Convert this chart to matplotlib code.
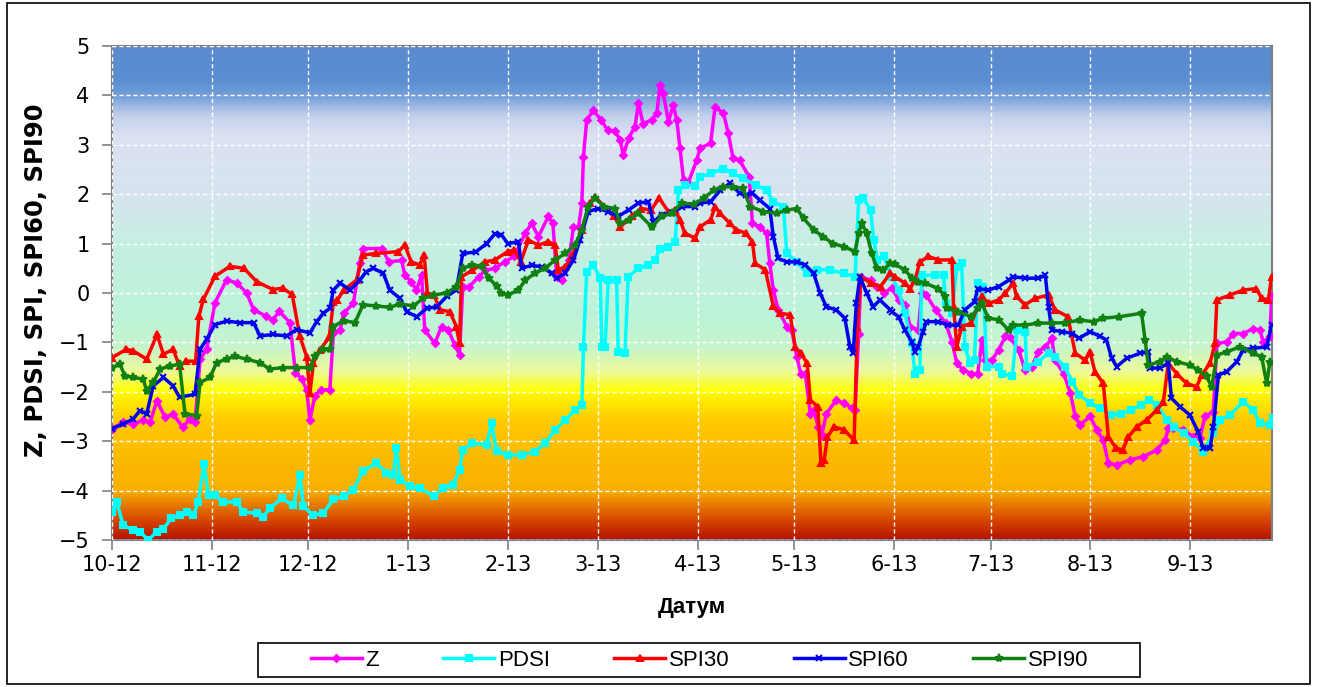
import matplotlib
matplotlib.use("Agg")
import numpy as np
import pandas as pd
import matplotlib.pyplot as plt
import matplotlib.dates as mdates
from matplotlib.colors import LinearSegmentedColormap
from matplotlib.patches import Rectangle

# Drought indices, Oct 2012 - Sep 2013. Days are counted from 1 Oct 2012.
START_DATE = "2012-10-01"
END_DAY = 360.5

z_day = [0, 3.5, 6.6, 9.7, 11.8, 14, 16.5, 19, 22, 24.2, 25.8, 27.4, 29.4, 32, 35.6, 38.8, 41.9, 44, 48, 50,
         52, 55.3, 57, 59, 60.5, 61.5, 63, 65, 67.7, 68.8, 70.9, 72, 75, 77, 78, 84, 86, 90, 91, 93,
         94.6, 96.2, 97.2, 100.3, 102.4, 104.5, 106.5, 108, 109, 111, 114, 116, 119, 122, 125, 128.4, 130.4, 132.5, 135.6, 137,
         138.2, 139.8, 142, 143.4, 145, 146, 146.5, 147.5, 149.6, 152, 154, 156.3, 157.9, 158.9, 160.5, 162.5, 163.6, 165, 167.7, 169.3,
         170.3, 171.3, 172.9, 174.4, 175.5, 176.5, 177.6, 179, 181.7, 182.7, 186, 187.4, 190, 191.5, 193, 195, 198, 199, 201.3, 203.4,
         204.4, 205.5, 207, 209.7, 211.2, 212.8, 214, 215.4, 217, 218, 219.5, 220.5, 222, 225, 227.3, 230, 230.9, 232, 232.7, 235.7,
         237.7, 239.8, 242.3, 244.4, 246.4, 248, 250.5, 251.6, 253, 256, 259, 261, 262.5, 264.5, 267, 269, 270.3, 271.3, 273.4, 275.5,
         277.6, 279, 281.7, 283.7, 285.8, 287.8, 290, 292, 293, 295.7, 297.8, 299.3, 300.8, 303.9, 306, 308, 309.6, 312.2, 316.3, 320.5,
         324.6, 327.2, 328.2, 329.8, 332.9, 336, 338, 339.6, 342.2, 343.3, 346.4, 348.4, 351.5, 354.6, 356.7, 357.7, 359.8, 360.3]
z_val = [-2.75, -2.62, -2.65, -2.58, -2.62, -2.18, -2.52, -2.45, -2.72, -2.55, -2.62, -1.34, -1.14, -0.2, 0.27, 0.2, 0.0, -0.34, -0.47, -0.54,
         -0.37, -0.6, -1.61, -1.74, -1.96, -2.57, -2.09, -1.96, -1.96, -0.81, -0.75, -0.41, -0.21, 0.6, 0.9, 0.9, 0.63, 0.66, 0.36, 0.23,
         0.06, 0.36, -0.75, -1.02, -0.68, -0.75, -1.05, -1.25, 0.13, 0.13, 0.33, 0.46, 0.5, 0.63, 0.74, 1.21, 1.41, 1.14, 1.55, 1.41,
         0.33, 0.26, 0.67, 1.34, 1.34, 1.82, 2.76, 3.5, 3.7, 3.5, 3.3, 3.27, 3.1, 2.79, 3.13, 3.37, 3.84, 3.43, 3.5, 3.64,
         4.21, 4.04, 3.47, 3.8, 3.5, 2.93, 2.29, 2.22, 2.69, 2.93, 3.03, 3.77, 3.64, 3.23, 2.73, 2.69, 2.35, 1.41, 1.34, 1.21,
         0.6, 0.06, -0.34, -0.68, -0.75, -1.29, -1.63, -1.63, -2.44, -2.37, -2.71, -2.88, -2.44, -2.17, -2.23, -2.33, -2.37, -0.82, 0.33, 0.26,
         0.13, 0.0, 0.1, -0.14, -0.24, -0.68, -0.75, 0.0, -0.04, -0.35, -0.6, -0.99, -1.42, -1.56, -1.63, -1.63, -0.95, -1.36, -1.36, -1.15,
         -0.88, -0.9, -1.15, -1.56, -1.5, -1.19, -1.09, -0.92, -1.36, -1.63, -2.03, -2.5, -2.67, -2.5, -2.77, -2.98, -3.45, -3.48, -3.38, -3.31,
         -3.18, -2.98, -2.74, -2.74, -2.77, -2.91, -2.94, -2.5, -2.4, -1.02, -0.99, -0.82, -0.82, -0.72, -0.75, -0.99, -0.88, -0.07]

pdsi_day = [0, 1.5, 3.5, 6.6, 8.7, 11.3, 14, 16, 18.5, 21, 23.2, 25.3, 26.8, 28.6, 30, 32, 34.6, 38.8, 40.8, 45,
            47, 49, 52.7, 56.4, 58.4, 59.5, 62.6, 65.7, 68.8, 72, 75, 78, 82, 85.3, 87.4, 88.4, 89.5, 92.6, 95.6, 100,
            103, 106, 108, 109, 112, 116.4, 118, 119.5, 123, 127.3, 131.4, 134.6, 137.7, 140.8, 143.9, 146, 146.5, 147.5, 149.6, 151.7,
            152.2, 153.2, 154.2, 156.8, 157.3, 159.4, 160.4, 163.6, 166.7, 168.7, 170.3, 172.9, 175, 176, 178, 181.2, 182.7, 186, 190, 193,
            196, 200, 203.4, 205.5, 208.6, 209.7, 212.8, 215.9, 219, 223, 227.3, 230.9, 232, 233.5, 235.7, 236.7, 237.8, 239.8, 242.3, 244.4,
            246.4, 248.5, 249.5, 251, 251.6, 255.8, 258.4, 259, 261, 262.5, 264, 265, 266.6, 268, 269, 270.7, 271.8, 275.5, 276.5, 279.7,
            281.2, 283.7, 284.2, 287.8, 291, 293, 296, 298.4, 300.5, 303.9, 307, 310.4, 313.4, 316.6, 319.6, 322.2, 324.7, 327.8, 330, 333,
            336, 339.1, 342.2, 344.3, 347.4, 351.5, 354.6, 356.7, 359.8, 360.6]
pdsi_val = [-4.43, -4.23, -4.7, -4.8, -4.83, -5.0, -4.83, -4.77, -4.56, -4.5, -4.43, -4.5, -4.23, -3.46, -4.09, -4.09, -4.23, -4.23, -4.43, -4.46,
            -4.53, -4.36, -4.16, -4.3, -3.69, -4.32, -4.5, -4.45, -4.18, -4.11, -3.98, -3.61, -3.44, -3.64, -3.68, -3.14, -3.78, -3.91, -3.95, -4.11,
            -3.95, -3.88, -3.58, -3.17, -3.04, -3.07, -2.63, -3.2, -3.28, -3.28, -3.21, -3.04, -2.77, -2.57, -2.37, -2.27, -1.09, 0.43, 0.57, 0.3,
            -1.09, -1.09, 0.26, 0.26, -1.19, -1.22, 0.33, 0.5, 0.57, 0.67, 0.9, 0.94, 1.04, 2.08, 2.19, 2.17, 2.35, 2.42, 2.52, 2.42,
            2.32, 2.19, 2.08, 1.85, 1.75, 0.8, 0.63, 0.4, 0.47, 0.47, 0.4, 0.33, 1.88, 1.92, 1.68, 1.07, 0.67, 0.74, 0.33, 0.06,
            -0.41, -1.02, -1.63, -1.56, 0.36, 0.36, 0.36, -0.21, -0.41, 0.53, 0.6, -1.09, -1.42, -1.35, 0.2, 0.13, -1.49, -1.49, -1.63, -1.69,
            -0.75, -0.78, -1.49, -1.39, -1.22, -1.29, -1.49, -1.8, -2.06, -2.23, -2.33, -2.47, -2.44, -2.37, -2.27, -2.17, -2.27, -2.57, -2.71, -2.84,
            -3.01, -3.21, -2.84, -2.57, -2.47, -2.2, -2.37, -2.64, -2.67, -2.54]

spi30_day = [0, 4.5, 6.6, 10.8, 14, 16, 19, 21, 23, 26, 27, 28.4, 32, 36.7, 41, 45, 50, 53, 56, 58.4,
             60.5, 61.5, 62.6, 64.6, 67.5, 68.8, 70, 72, 76, 78, 82, 89, 91, 93, 95.6, 97, 98, 100, 102, 105,
             107, 108, 108.6, 112, 116, 119, 123, 125, 127, 129.4, 132.5, 135.6, 137.7, 138.7, 140.8, 143, 146, 148.6, 150, 153,
             156, 158, 161.5, 164.5, 167.5, 170, 172.9, 175, 176.5, 178, 181.2, 182.7, 186, 187.4, 189, 192, 194, 197, 199, 199.8,
             203, 205.5, 207.6, 210.7, 212.3, 214, 216, 217, 219.3, 220.3, 221.3, 222.3, 224.4, 227.5, 230.6, 231.6, 232.7, 235.7, 238.8, 241.8,
             243.3, 246.4, 248, 249.5, 251, 253.7, 256.8, 261, 261.5, 262.5, 264, 267, 270.3, 272.4, 275.5, 277.6, 280, 281.1, 283.7, 286.8,
             291, 293, 297, 299.3, 302.4, 303.9, 305.4, 308, 309.6, 312, 314, 315.8, 318.4, 321.5, 324.6, 326.7, 328.2, 330.8, 333.9, 337,
             338.6, 341.2, 342.7, 343.3, 347.4, 351.5, 355.6, 357.2, 359.3, 360.3]
spi30_val = [-1.31, -1.14, -1.17, -1.34, -0.84, -1.24, -1.14, -1.48, -1.38, -1.38, -0.47, -0.13, 0.34, 0.54, 0.5, 0.23, 0.07, 0.1, -0.03, -0.88,
             -1.29, -2.03, -1.42, -1.15, -0.9, -0.18, -0.15, 0.06, 0.26, 0.77, 0.8, 0.84, 0.97, 0.63, 0.57, 0.77, 0.0, -0.04, -0.34, -0.38,
             -0.68, -1.02, 0.33, 0.46, 0.63, 0.67, 0.84, 0.87, 0.63, 1.07, 0.97, 1.04, 0.97, 0.47, 0.53, 0.74, 1.28, 1.82, 1.95, 1.75,
             1.55, 1.34, 1.55, 1.71, 1.68, 1.92, 1.65, 1.68, 1.48, 1.21, 1.11, 1.34, 1.48, 1.75, 1.61, 1.41, 1.28, 1.21, 1.04, 0.6,
             0.47, -0.27, -0.41, -0.44, -1.09, -1.22, -1.42, -2.17, -2.3, -3.45, -3.38, -2.91, -2.71, -2.77, -2.98, -0.68, 0.33, 0.2, 0.13, 0.4,
             0.33, 0.2, 0.09, 0.26, 0.63, 0.74, 0.67, 0.67, -0.28, -1.09, -0.68, -0.61, -0.07, -0.21, -0.14, 0.0, 0.2, -0.07, -0.24, -0.11,
             -0.04, -0.34, -0.48, -1.22, -1.36, -1.19, -1.59, -1.83, -2.91, -3.14, -3.18, -2.91, -2.71, -2.57, -2.37, -2.2, -1.42, -1.63, -1.83, -1.9,
             -1.66, -1.42, -1.02, -0.14, -0.04, 0.06, 0.09, -0.11, -0.14, 0.33]

spi60_day = [0, 3.5, 6.6, 8.7, 10.8, 12.8, 16, 19, 21, 25.8, 27.4, 29.4, 32, 35.6, 39.8, 44, 46, 50, 54.3, 57.4,
             61.5, 63.6, 65.7, 67.7, 68.8, 70.9, 74, 77, 79, 81.2, 84.3, 86.3, 89.5, 91.6, 94.7, 97.8, 100.9, 104, 107, 109,
             113, 116.4, 119, 121, 123, 126.3, 127.3, 130.4, 133.5, 136.6, 138.2, 140.8, 143.4, 145.4, 148, 151, 154, 157.3, 160.5, 163.6,
             166.7, 168.2, 170.8, 173.9, 177, 181.2, 182.7, 186, 189, 192, 195, 197, 199, 201.3, 204.4, 205.5, 207, 209.7, 212.8, 215.4,
             218, 220, 222, 225, 227.7, 229.3, 230.3, 231.3, 232.4, 234.5, 236.5, 238.6, 241.8, 242.3, 244.4, 246.4, 248.5, 249.5, 250.5, 252,
             253, 256.8, 259.9, 263, 265, 268, 269, 272.3, 275.5, 278.6, 280, 283.7, 287.8, 290, 291, 292, 295.3, 298.4, 300.5, 303.9,
             307, 309, 310.6, 312.2, 315.3, 319.4, 322, 322.6, 325.6, 328.2, 329.2, 331.8, 334.9, 337.5, 339, 341.2, 342.2, 343.8, 346.4, 349.5,
             351.5, 354.6, 358.8, 360.3]
spi60_val = [-2.75, -2.65, -2.55, -2.38, -2.45, -1.88, -1.71, -1.88, -2.11, -2.05, -1.14, -0.94, -0.64, -0.57, -0.6, -0.6, -0.87, -0.84, -0.87, -0.74,
             -0.81, -0.58, -0.41, -0.31, 0.06, 0.2, 0.06, 0.26, 0.43, 0.5, 0.4, 0.06, -0.11, -0.38, -0.48, -0.31, -0.28, -0.07, 0.06, 0.8,
             0.83, 1.0, 1.2, 1.18, 1.0, 1.04, 0.5, 0.56, 0.53, 0.4, 0.3, 0.4, 0.67, 1.07, 1.65, 1.71, 1.65, 1.55, 1.68, 1.82,
             1.85, 1.44, 1.58, 1.61, 1.75, 1.75, 1.82, 1.85, 2.08, 2.22, 2.02, 1.98, 2.02, 1.88, 1.71, 1.14, 0.7, 0.63, 0.63, 0.57,
             0.4, 0.0, -0.28, -0.34, -0.51, -1.09, -1.22, -0.2, 0.33, 0.0, -0.28, -0.14, -0.34, -0.38, -0.48, -0.75, -0.99, -1.19, -1.09, -0.78,
             -0.58, -0.58, -0.65, -0.65, -0.34, -0.18, 0.09, 0.06, 0.13, 0.26, 0.33, 0.3, 0.3, 0.36, -0.28, -0.75, -0.78, -0.82, -0.92, -0.78,
             -0.88, -0.95, -1.32, -1.49, -1.32, -1.22, -1.19, -1.52, -1.52, -1.42, -2.13, -2.3, -2.47, -2.81, -3.14, -3.14, -2.71, -1.66, -1.59, -1.39,
             -1.15, -1.12, -1.09, -0.65]

spi90_day = [0, 2.5, 4, 6.6, 9.7, 10.8, 12.8, 15, 18, 21, 22.7, 26.3, 27.4, 30.5, 32.5, 35.6, 38.2, 41.9, 46, 49,
             53.3, 57.4, 61.6, 63, 65.7, 67.8, 68.8, 72, 75.5, 78, 82, 86.3, 89.5, 93.6, 96.7, 100, 104, 107, 109, 112,
             115, 117, 119.5, 121, 123, 126.3, 128.4, 131.4, 134.6, 137.7, 140.8, 143.9, 146, 148, 150, 153, 156.3, 157.9, 160.5, 163.6,
             167.7, 170.8, 173.9, 177, 181, 183.8, 187, 190, 193, 196, 198.3, 202.4, 206.5, 209.7, 212.8, 214.9, 218, 221, 224, 227.3,
             230.9, 232, 233, 234.5, 236.1, 237.6, 239.7, 241.8, 243.3, 246.4, 248.5, 250.5, 252.6, 256.8, 258.9, 259.4, 263, 267, 269, 270.3,
             272.3, 275.5, 278.6, 280, 283.7, 287.8, 292, 296, 300.8, 305, 308, 313, 319.9, 321, 322, 325.6, 327.7, 330.8, 335, 337.5,
             340.1, 341.7, 343.3, 346.4, 350.5, 354.6, 357.2, 358.8, 359.8]
spi90_val = [-1.51, -1.44, -1.68, -1.71, -1.74, -1.98, -1.81, -1.54, -1.48, -1.44, -2.45, -2.48, -1.81, -1.71, -1.41, -1.34, -1.28, -1.34, -1.41, -1.54,
             -1.51, -1.51, -1.51, -1.27, -1.14, -1.14, -0.68, -0.56, -0.6, -0.24, -0.26, -0.29, -0.22, -0.26, -0.11, -0.04, 0.0, 0.13, 0.5, 0.57,
             0.54, 0.3, 0.15, 0.0, -0.04, 0.06, 0.26, 0.4, 0.5, 0.67, 0.8, 0.97, 1.28, 1.75, 1.92, 1.75, 1.71, 1.41, 1.48, 1.61,
             1.34, 1.55, 1.61, 1.82, 1.8, 1.92, 2.08, 2.15, 2.15, 2.12, 1.75, 1.65, 1.61, 1.68, 1.71, 1.51, 1.28, 1.14, 1.0, 0.94,
             0.84, 1.21, 1.41, 1.21, 0.8, 0.5, 0.47, 0.6, 0.58, 0.47, 0.3, 0.23, 0.2, 0.09, -0.07, -0.31, -0.38, -0.48, -0.31, -0.21,
             -0.51, -0.54, -0.75, -0.65, -0.65, -0.61, -0.61, -0.6, -0.55, -0.58, -0.51, -0.48, -0.41, -0.95, -1.46, -1.39, -1.29, -1.39, -1.46, -1.56,
             -1.69, -1.9, -1.26, -1.19, -1.09, -1.22, -1.29, -1.83, -1.39]

series_names = ["Z", "PDSI", "SPI30", "SPI60", "SPI90"]

# colour bands of the background, from driest (bottom) to wettest (top)
BAND_STOPS = [(-5.0, "#b81400"), (-4.6, "#d84a00"), (-4.0, "#f8b000"), (-3.0, "#ffc000"),
              (-2.6, "#ffca00"), (-2.1, "#fff200"), (-2.0, "#ffff00"), (-1.6, "#eefa98"),
              (-1.1, "#c6f5cc"), (-0.5, "#bdf3d8"), (1.0, "#c6efe2"), (2.0, "#d6e4ee"),
              (3.2, "#dbe1f2"), (3.6, "#c4d0ec"), (4.0, "#76a0da"), (4.3, "#5b8fd2"), (5.0, "#5a8bcf")]


def to_dates(days):
    return pd.Timestamp(START_DATE) + pd.to_timedelta(np.array(days), unit="D")


def month_label(x, pos=None):
    d = mdates.num2date(x)
    return f"{d.month}-{d:%y}"


def main():
    plt.rcParams["font.family"] = ["DejaVu Sans"]

    fig = plt.figure(figsize=(13.17, 6.87), dpi=100)
    ax = fig.add_axes([0.085, 0.214, 0.881, 0.719])

    x0 = mdates.date2num(pd.Timestamp(START_DATE))
    x1 = x0 + END_DAY

    # vertical background gradient
    cmap = LinearSegmentedColormap.from_list(
        "bands", [((v + 5) / 10, c) for v, c in BAND_STOPS])
    grad = np.linspace(0, 1, 600).reshape(-1, 1)
    ax.imshow(grad, extent=[x0, x1, -5, 5], origin="lower", aspect="auto",
              cmap=cmap, interpolation="bilinear", zorder=0)

    styles = [
        (z_day, z_val, "#ff00ff", "D", 3.5),
        (pdsi_day, pdsi_val, "#00ffff", "s", 4.5),
        (spi30_day, spi30_val, "#ff0000", "^", 5),
        (spi60_day, spi60_val, "#0000ee", "x", 5),
        (spi90_day, spi90_val, "#108010", "*", 6),
    ]
    for name, (days, vals, col, mk, ms) in zip(series_names, styles):
        ax.plot(to_dates(days), vals, color=col, lw=2.5, marker=mk, ms=ms,
                mec=col, mfc=col, mew=1.5, label=name, zorder=3)

    ax.set_xlim(x0, x1)
    ax.set_ylim(-5, 5)
    ax.set_yticks(range(-5, 6))
    ax.xaxis.set_major_locator(mdates.MonthLocator())
    ax.xaxis.set_major_formatter(plt.FuncFormatter(month_label))

    ax.grid(True, color="white", linestyle=(0, (3, 2)), linewidth=1.0, zorder=1)
    ax.set_axisbelow(False)
    for s in ax.spines.values():
        s.set_color("#808080")
        s.set_linewidth(1.5)
    ax.tick_params(direction="out", length=7, width=1.2, color="#808080", labelsize=15)
    ax.tick_params(axis="y", pad=9)
    ax.tick_params(axis="x", pad=4)

    ax.set_ylabel("Z, PDSI, SPI, SPI60, SPI90", fontsize=17.5, fontweight="bold", va="center")
    ax.yaxis.set_label_coords(-0.0655, 0.526)
    ax.set_xlabel("Датум", family="Liberation Sans", fontsize=16, fontweight="bold", labelpad=16)

    # legend entries without frame, box drawn separately
    fig.legend(loc="center", bbox_to_anchor=(0.531, 0.039), ncol=5,
               prop={"family": "Liberation Sans", "size": 16}, frameon=False,
               handlelength=2.3, columnspacing=2.9, handletextpad=0.15)
    fig.patches.append(Rectangle((258 / 1317, 1 - 677 / 687), 882 / 1317, 34 / 687,
                                 transform=fig.transFigure, fill=False,
                                 edgecolor="black", linewidth=1.2))

    # thin frame round the whole chart
    fig.patches.append(Rectangle((0.005, 0.004), 0.99, 0.992, transform=fig.transFigure,
                                 fill=False, edgecolor="black", linewidth=1.2))

    fig.savefig("out.png", dpi=100)
    return 0


if __name__ == "__main__":
    main()
